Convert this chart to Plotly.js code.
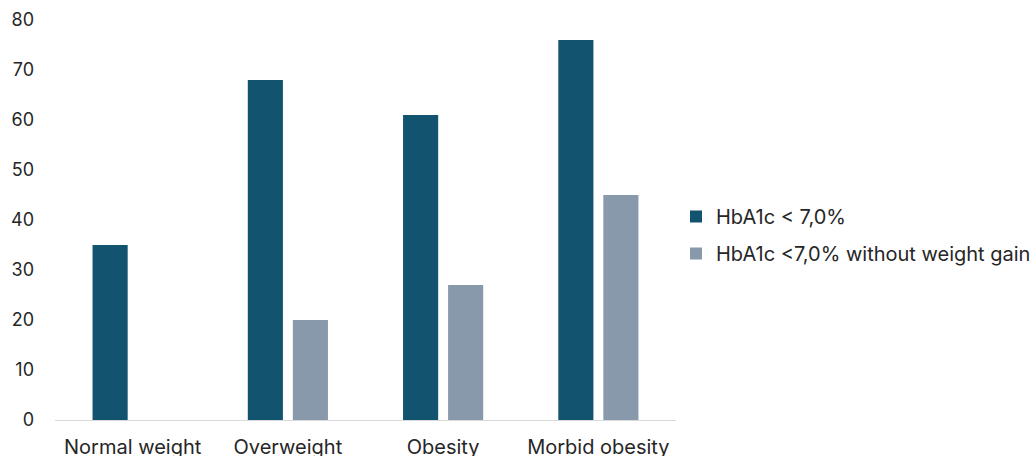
<!DOCTYPE html>
<html>
<head>
<meta charset="utf-8">
<script src="https://cdn.plot.ly/plotly-3.0.1.min.js"></script>
<style>html,body{margin:0;padding:0;background:#fff;}#chart{width:1032px;height:456px;}</style>
</head>
<body>
<div id="chart"></div>
<script>
const categories = ['Normal weight', 'Overweight', 'Obesity', 'Morbid obesity'];
const hba1cBelow7 = [35, 68, 61, 76];
const hba1cBelow7NoGain = [null, 20, 27, 45];
const seriesNames = ['HbA1c < 7,0%', 'HbA1c <7,0% without weight gain'];
const yTicks = [0, 10, 20, 30, 40, 50, 60, 70, 80];

const FONT = 'Inter, "Open Sans", "Liberation Sans", sans-serif';

const traces = [
  {
    type: 'bar', x: categories, y: hba1cBelow7, name: seriesNames[0],
    legendgroup: 'a',
    marker: {color: '#12536F', line: {width: 0}}, hoverinfo: 'x+y'
  },
  {
    type: 'bar', x: categories, y: hba1cBelow7NoGain, name: seriesNames[1],
    legendgroup: 'b',
    marker: {color: '#8799AB', line: {width: 0}}, hoverinfo: 'x+y'
  }
];

const layout = {
  width: 1032, height: 456,
  margin: {l: 55, r: 356, t: 20, b: 36, autoexpand: false},
  paper_bgcolor: '#ffffff', plot_bgcolor: '#ffffff',
  font: {family: FONT, size: 18, color: '#262626'},
  barmode: 'group',
  bargap: 0.42,
  bargroupgap: 0.22,
  showlegend: true,
  legend: {
    x: 1.0, xanchor: 'left', y: 0.4625, yanchor: 'middle',
    font: {family: FONT, size: 20, color: '#262626'},
    traceorder: 'grouped', tracegroupgap: 8,
    itemwidth: 30, bgcolor: 'rgba(0,0,0,0)'
  },
  xaxis: {
    type: 'category', showgrid: false, zeroline: false,
    showline: false, ticks: '', ticklabelstandoff: 13,
    tickfont: {family: FONT, size: 20, color: '#262626'}
  },
  yaxis: {
    range: [0, 80], tickvals: yTicks, showgrid: false,
    zeroline: true, zerolinecolor: '#d9d9d9', zerolinewidth: 1,
    showline: false, ticks: '', ticklabelstandoff: 20,
    tickfont: {family: FONT, size: 18, color: '#262626'}
  }
};

Plotly.newPlot('chart', traces, layout, {displayModeBar: false, staticPlot: true});
</script>
</body>
</html>
